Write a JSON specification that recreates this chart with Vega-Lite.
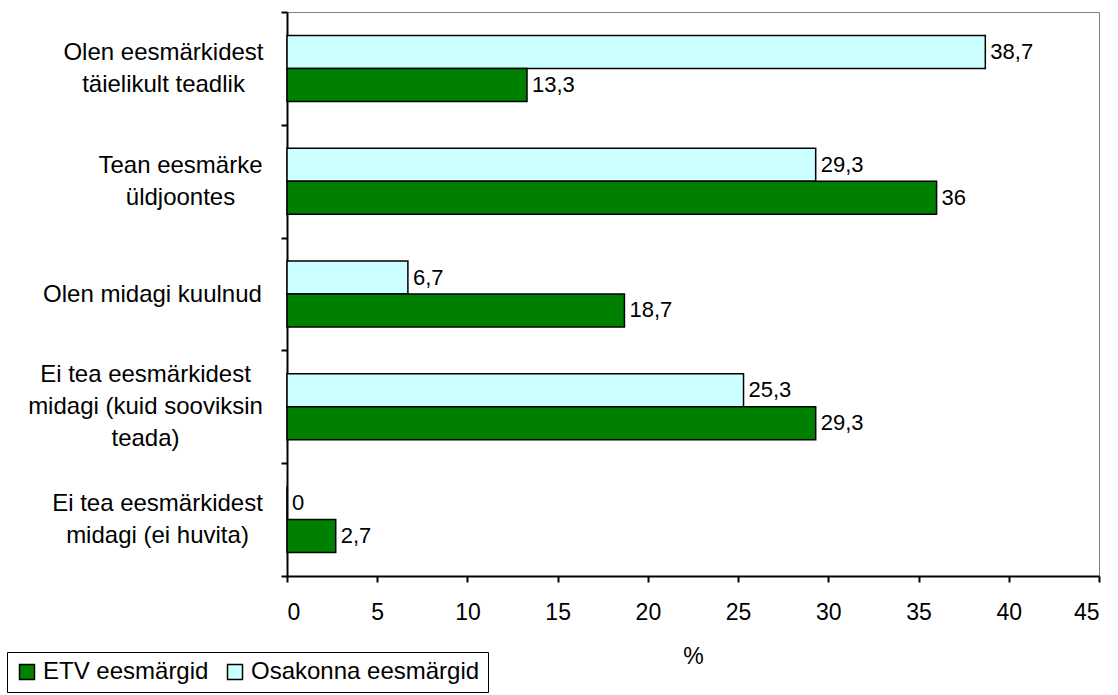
{
  "$schema": "https://vega.github.io/schema/vega-lite/v6.json",
  "autosize": {"type": "none"},
  "padding": {"left": 287, "top": 12, "right": 19, "bottom": 119},
  "width": 812,
  "height": 564,
  "config": {
    "font": "Liberation Sans",
    "view": {"stroke": "#808080", "strokeWidth": 1},
    "locale": {"number": {"decimal": ",", "thousands": " ", "grouping": [3], "currency": ["", ""]}}
  },
  "data": {
    "values": [
      {"kategooria": "Olen eesmärkidest|täielikult teadlik", "seeria": "Osakonna eesmärgid", "protsent": 38.7},
      {"kategooria": "Olen eesmärkidest|täielikult teadlik", "seeria": "ETV eesmärgid", "protsent": 13.3},
      {"kategooria": "Tean eesmärke|üldjoontes", "seeria": "Osakonna eesmärgid", "protsent": 29.3},
      {"kategooria": "Tean eesmärke|üldjoontes", "seeria": "ETV eesmärgid", "protsent": 36},
      {"kategooria": "Olen midagi kuulnud", "seeria": "Osakonna eesmärgid", "protsent": 6.7},
      {"kategooria": "Olen midagi kuulnud", "seeria": "ETV eesmärgid", "protsent": 18.7},
      {"kategooria": "Ei tea eesmärkidest|midagi (kuid sooviksin|teada)", "seeria": "Osakonna eesmärgid", "protsent": 25.3},
      {"kategooria": "Ei tea eesmärkidest|midagi (kuid sooviksin|teada)", "seeria": "ETV eesmärgid", "protsent": 29.3},
      {"kategooria": "Ei tea eesmärkidest|midagi (ei huvita)", "seeria": "Osakonna eesmärgid", "protsent": 0},
      {"kategooria": "Ei tea eesmärkidest|midagi (ei huvita)", "seeria": "ETV eesmärgid", "protsent": 2.7}
    ]
  },
  "encoding": {
    "y": {
      "field": "kategooria",
      "type": "nominal",
      "sort": null,
      "scale": {"paddingInner": 0, "paddingOuter": 0},
      "axis": {
        "title": null,
        "tickBand": "extent",
        "domainColor": "black",
        "domainWidth": 2,
        "tickColor": "black",
        "tickWidth": 2,
        "tickSize": 6,
        "labelFontSize": 24,
        "labelColor": "black",
        "labelAlign": "center",
        "labelBaseline": "middle",
        "labelLineHeight": 32,
        "labelLimit": 400,
        "labelExpr": "split(datum.label, '|')",
        "labelOffset": {
          "condition": [
            {"test": "datum.value == 'Olen midagi kuulnud'", "value": 0},
            {"test": "datum.value == 'Ei tea eesmärkidest|midagi (kuid sooviksin|teada)'", "value": -32}
          ],
          "value": -16
        },
        "labelPadding": {
          "condition": [
            {"test": "datum.value == 'Olen eesmärkidest|täielikult teadlik'", "value": 118},
            {"test": "datum.value == 'Tean eesmärke|üldjoontes'", "value": 101},
            {"test": "datum.value == 'Olen midagi kuulnud'", "value": 129},
            {"test": "datum.value == 'Ei tea eesmärkidest|midagi (kuid sooviksin|teada)'", "value": 136}
          ],
          "value": 124
        }
      }
    },
    "yOffset": {
      "field": "seeria",
      "type": "nominal",
      "sort": ["Osakonna eesmärgid", "ETV eesmärgid"],
      "scale": {"paddingInner": 0, "paddingOuter": 0.71}
    },
    "x": {
      "field": "protsent",
      "type": "quantitative",
      "scale": {"domain": [0, 45], "nice": false},
      "axis": {
        "title": "%",
        "values": [0, 5, 10, 15, 20, 25, 30, 35, 40, 45],
        "format": "d",
        "grid": false,
        "domainColor": "black",
        "domainWidth": 2,
        "tickColor": "black",
        "tickWidth": 2,
        "tickSize": 6,
        "labelFontSize": 23,
        "labelColor": "black",
        "labelPadding": 19,
        "titleFontSize": 23,
        "titleFontWeight": "normal",
        "titleColor": "black",
        "titlePadding": 21
      }
    }
  },
  "layer": [
    {
      "mark": {"type": "bar", "stroke": "black", "strokeWidth": 1.5},
      "encoding": {
        "color": {
          "field": "seeria",
          "type": "nominal",
          "scale": {"domain": ["ETV eesmärgid", "Osakonna eesmärgid"], "range": ["#008000", "#CCFFFF"]},
          "legend": {
            "title": null,
            "orient": "none",
            "direction": "horizontal",
            "legendX": -280,
            "legendY": 640,
            "strokeColor": "black",
            "padding": 8,
            "symbolType": "square",
            "symbolSize": 225,
            "symbolStrokeColor": "black",
            "symbolStrokeWidth": 1.5,
            "symbolOpacity": 1,
            "labelFontSize": 24,
            "labelColor": "black",
            "labelOffset": 4,
            "columnPadding": 14,
            "labelLimit": 400
          }
        }
      }
    },
    {
      "mark": {"type": "text", "align": "left", "baseline": "middle", "dx": 5, "fontSize": 22, "color": "black"},
      "encoding": {
        "text": {"field": "protsent", "type": "quantitative", "format": ".3~g"}
      }
    }
  ]
}
